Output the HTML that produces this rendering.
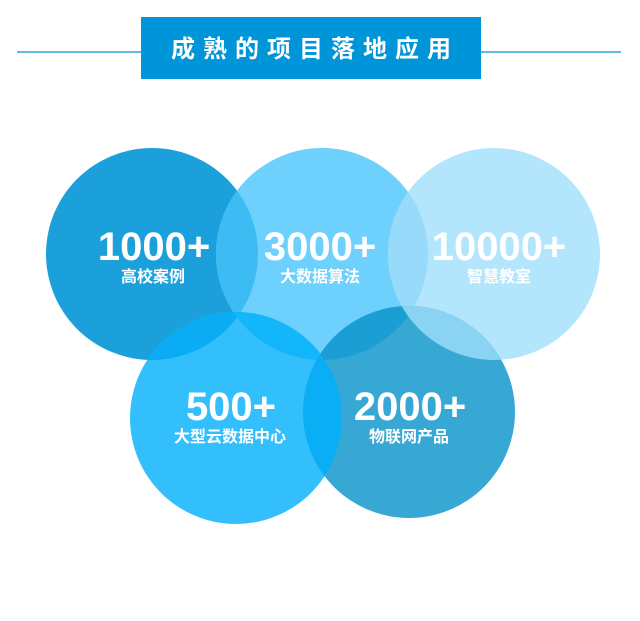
<!DOCTYPE html>
<html><head><meta charset="utf-8"><style>
html,body{margin:0;padding:0;background:#fff;width:640px;height:621px;overflow:hidden}
</style></head><body>
<svg width="640" height="621" viewBox="0 0 640 621" xmlns="http://www.w3.org/2000/svg">
<defs>
<clipPath id="c1"><circle cx="152" cy="254" r="106"/></clipPath>
<clipPath id="c2"><circle cx="322" cy="254" r="106"/></clipPath>
<clipPath id="c3"><circle cx="494" cy="254" r="106"/></clipPath>
<clipPath id="c4"><circle cx="236" cy="418" r="106"/></clipPath>
<clipPath id="c5"><circle cx="409" cy="412" r="106"/></clipPath>
</defs>
<line x1="17" y1="52" x2="621" y2="52" stroke="#0095d9" stroke-width="1.2"/>
<rect x="141" y="17" width="340" height="62" fill="#0095d9"/>
<text x="315" y="57" text-anchor="middle" fill="#fff" font-family="'Liberation Sans','Noto Sans CJK SC',sans-serif" font-weight="bold" font-size="24" letter-spacing="8">成熟的项目落地应用</text>

<circle cx="152" cy="254" r="106" fill="#1ca0dc"/>
<circle cx="322" cy="254" r="106" fill="#6dd0fd"/>
<circle cx="494" cy="254" r="106" fill="#b3e5fc"/>
<circle cx="236" cy="418" r="106" fill="#33bffb"/>
<circle cx="409" cy="412" r="106" fill="#36a8d3"/>
<g clip-path="url(#c1)"><circle cx="322" cy="254" r="106" fill="#3dbcf3"/><circle cx="236" cy="418" r="106" fill="#0aadf3"/></g>
<g clip-path="url(#c2)"><circle cx="494" cy="254" r="106" fill="#97dafa"/><circle cx="236" cy="418" r="106" fill="#14b6fb"/><circle cx="409" cy="412" r="106" fill="#1a9ed3"/></g>
<g clip-path="url(#c3)"><circle cx="409" cy="412" r="106" fill="#8bd3f2"/></g>
<g clip-path="url(#c4)"><circle cx="409" cy="412" r="106" fill="#0aaef5"/></g>

<g font-family="'Liberation Sans','Noto Sans CJK SC',sans-serif" font-weight="bold" fill="#fff" text-anchor="middle">
<text x="154" y="260" font-size="40">1000+</text>
<text x="153" y="282" font-size="16">高校案例</text>
<text x="320" y="260" font-size="40">3000+</text>
<text x="320" y="282" font-size="16">大数据算法</text>
<text x="499" y="260" font-size="40">10000+</text>
<text x="499" y="282" font-size="16">智慧教室</text>
<text x="231" y="420" font-size="40">500+</text>
<text x="230" y="442" font-size="16">大型云数据中心</text>
<text x="410" y="420" font-size="40">2000+</text>
<text x="409" y="442" font-size="16">物联网产品</text>
</g>
</svg>
</body></html>
